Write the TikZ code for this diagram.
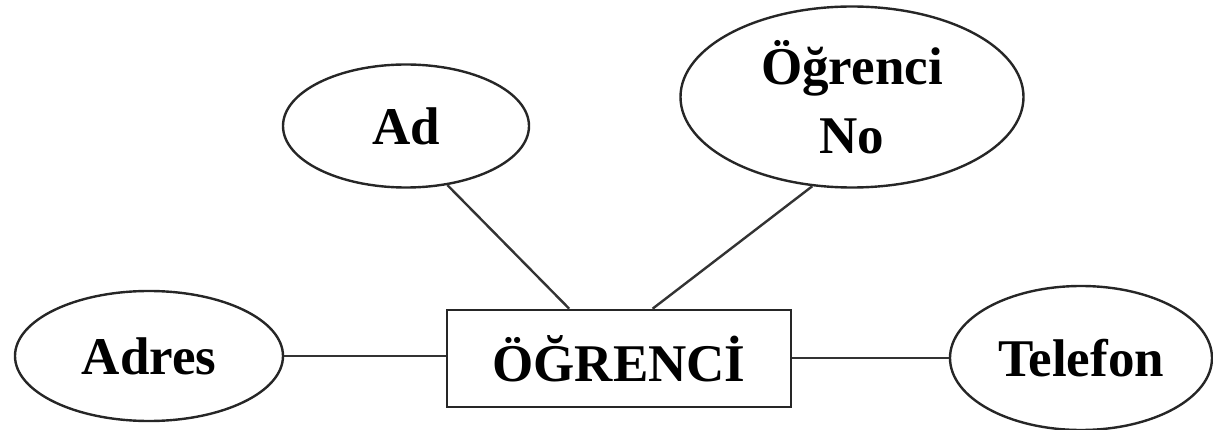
\documentclass[tikz,border=0pt]{standalone}
\usepackage{fontspec}
\setmainfont{Liberation Serif}
\usetikzlibrary{shapes.geometric}
\begin{document}
\begin{tikzpicture}[x=1pt,y=-1pt,
  every node/.style={font=\bfseries\fontsize{53}{69}\selectfont, inner sep=0pt},
  attr/.style={ellipse, draw=black!85, line width=2.4pt},
  entity/.style={rectangle, draw=black!85, line width=2.6pt},
  link/.style={draw=black!80, line width=2.4pt}]
  \useasboundingbox (0,0) rectangle (1213,430);
  % entity
  \node[entity, minimum width=344pt, minimum height=97pt] (ent) at (619,358.5) {ÖĞRENCİ};
  % attributes
  \node[attr, minimum width=246pt, minimum height=123pt] (ad) at (406,126) {Ad};
  \node[attr, minimum width=343pt, minimum height=181pt, align=center] (no) at (852,97) {Öğrenci\\No};
  \node[attr, minimum width=268pt, minimum height=130pt] (adres) at (149,356) {Adres};
  \node[attr, minimum width=262pt, minimum height=144pt] (tel) at (1081,358) {Telefon};
  % connectors
  \draw[link] (ad.-55) -- (ent.135);
  \draw[link] (no.-114) -- (ent.56);
  \draw[link] (adres.east) -- (adres.east -| ent.west);
  \draw[link] (ent.east |- tel.west) -- (tel.west);
\end{tikzpicture}
\end{document}
